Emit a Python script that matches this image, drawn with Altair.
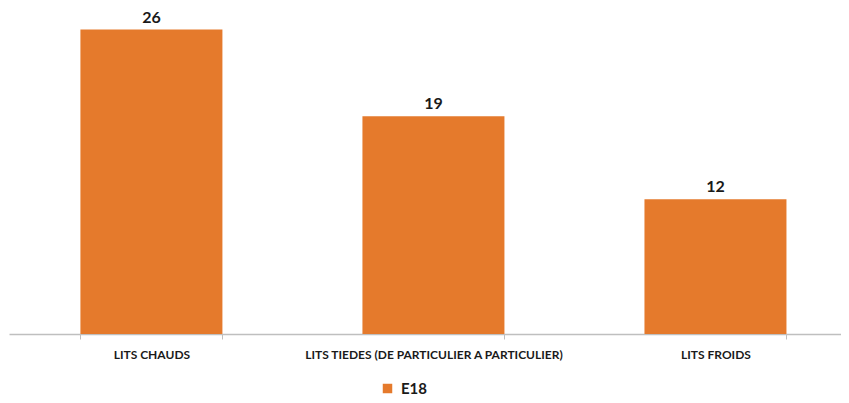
import altair as alt
import pandas as pd

categories = ["LITS CHAUDS", "LITS TIEDES (DE PARTICULIER A PARTICULIER)", "LITS FROIDS"]
values = [26, 18.6, 11.5]
labels = ["26", "19", "12"]
series = ["E18", "E18", "E18"]

df = pd.DataFrame({"cat": categories, "val": values, "lab": labels, "series": series})

ORANGE = "#E57A2C"
FONT = "Lato"

x = alt.X("cat:N", sort=categories, title=None,
          scale=alt.Scale(paddingInner=0.4965, paddingOuter=0.2233, align=0.567),
          axis=alt.Axis(labelAngle=0, labelFont=FONT, labelFontWeight="bold",
                        labelFontSize=12, labelColor="#1a1a1a", labelPadding=10,
                        labelLimit=0,
                        domainColor="#BFBFBF", domainWidth=1.5, tickColor="#BFBFBF",
                        tickSize=5, tickBand="extent", grid=False))
y = alt.Y("val:Q", title=None, scale=alt.Scale(domain=[0, 27.5], nice=False, zero=True),
          axis=None)

bars = alt.Chart(df).mark_bar(color=ORANGE).encode(
    x=x, y=y,
    color=alt.Color("series:N", scale=alt.Scale(range=[ORANGE]),
                    legend=alt.Legend(title=None, orient="none", legendX=371, legendY=369,
                                      symbolType="square", symbolSize=90,
                                      symbolStrokeWidth=0, labelFont=FONT,
                                      labelFontWeight="bold", labelFontSize=15,
                                      labelColor="#1a1a1a", labelOffset=6)),
)

text = alt.Chart(df).mark_text(font=FONT, fontWeight="bold", fontSize=16,
                                color="#1a1a1a", baseline="bottom", dy=-4).encode(
    x=alt.X("cat:N", sort=categories), y="val:Q", text="lab:N")

chart = (bars + text).properties(
    width=832, height=322,
    padding={"left": 1, "top": 4, "right": 0, "bottom": 61},
    autosize=alt.AutoSizeParams(type="none"),
).configure_view(stroke=None)

chart.save("out.html", embed_options={"renderer": "svg", "actions": False})
